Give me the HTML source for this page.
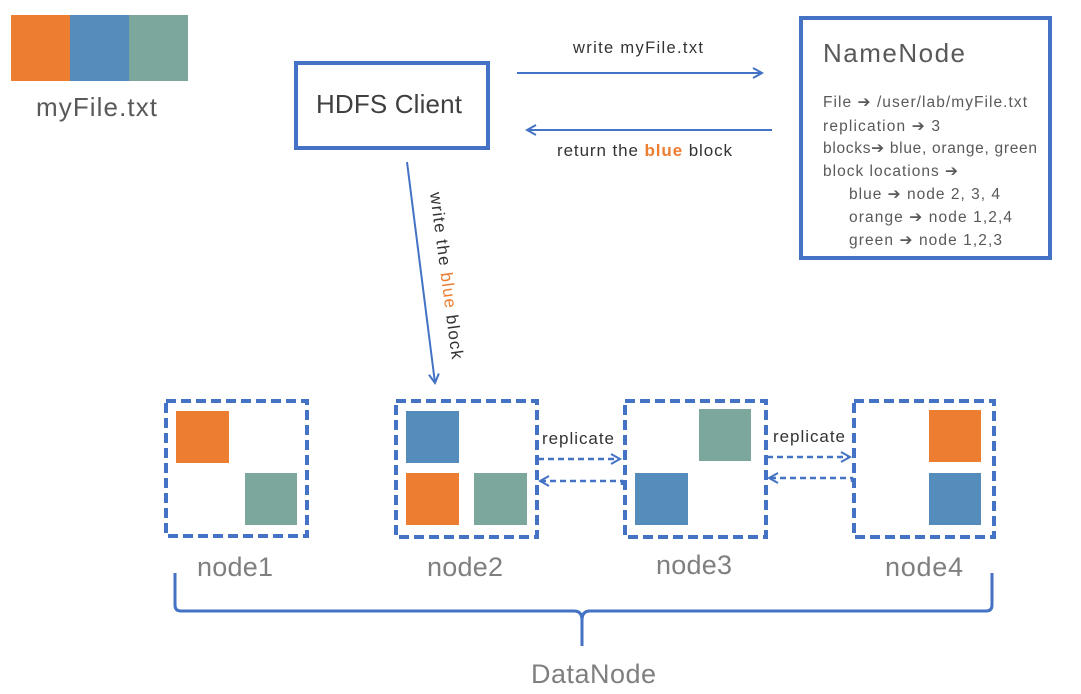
<!DOCTYPE html>
<html><head><meta charset="utf-8"><style>
html,body{margin:0;padding:0;background:#fff;}
svg{display:block;font-family:"Liberation Sans",sans-serif;}
</style></head><body>
<svg width="1081" height="694" viewBox="0 0 1081 694" xmlns="http://www.w3.org/2000/svg">
<defs>
<marker id="ah" markerWidth="12" markerHeight="12" refX="10" refY="6" orient="auto" markerUnits="userSpaceOnUse">
<path d="M1,1 L10,6 L1,11" fill="none" stroke="#4472C4" stroke-width="2"/>
</marker>
</defs>
<rect x="11" y="15" width="59" height="66" fill="#ED7D31"/>
<rect x="70" y="15" width="59" height="66" fill="#548CBB"/>
<rect x="129" y="15" width="59" height="66" fill="#7BA79D"/>
<text x="36" y="116" font-size="26" fill="#595959" textLength="121" lengthAdjust="spacing">myFile.txt</text>

<rect x="296" y="63" width="192" height="85" fill="none" stroke="#4472C4" stroke-width="4"/>
<text x="316" y="113" font-size="26" fill="#404040" textLength="146" lengthAdjust="spacing">HDFS Client</text>

<rect x="801" y="18" width="249" height="240" fill="none" stroke="#4472C4" stroke-width="4"/>
<g fill="#595959">
<text x="823" y="62" font-size="26" textLength="142" lengthAdjust="spacing">NameNode</text>
<g font-size="15.5">
<text x="823" y="107" textLength="204" lengthAdjust="spacing">File ➔ /user/lab/myFile.txt</text>
<text x="823" y="131" textLength="117" lengthAdjust="spacing">replication ➔ 3</text>
<text x="823" y="153" textLength="214" lengthAdjust="spacing">blocks➔ blue, orange, green</text>
<text x="823" y="176" textLength="135" lengthAdjust="spacing">block locations ➔</text>
<text x="849" y="199" textLength="151" lengthAdjust="spacing">blue ➔ node 2, 3, 4</text>
<text x="849" y="222" textLength="163" lengthAdjust="spacing">orange ➔ node 1,2,4</text>
<text x="849" y="245" textLength="153" lengthAdjust="spacing">green ➔ node 1,2,3</text>
</g></g>

<line x1="517" y1="73" x2="762" y2="73" stroke="#4472C4" stroke-width="2" marker-end="url(#ah)"/>
<text x="573" y="53" font-size="16.5" fill="#333" textLength="130" lengthAdjust="spacing">write myFile.txt</text>
<line x1="772" y1="130" x2="527" y2="130" stroke="#4472C4" stroke-width="2" marker-end="url(#ah)"/>
<text x="557" y="156" font-size="17" fill="#333" textLength="175" lengthAdjust="spacing">return the <tspan fill="#ED7D31" font-weight="bold">blue</tspan> block</text>

<line x1="407" y1="162" x2="435" y2="383" stroke="#4472C4" stroke-width="2" marker-end="url(#ah)"/>
<text transform="translate(430,193) rotate(82.5)" font-size="17" fill="#333" textLength="168" lengthAdjust="spacing">write the <tspan fill="#ED7D31">blue</tspan> block</text>

<g fill="none" stroke="#4472C4" stroke-width="4" stroke-dasharray="10,5">
<rect x="166" y="401" width="141" height="135"/>
<rect x="396" y="401" width="141" height="136"/>
<rect x="625" y="401" width="141" height="136"/>
<rect x="854" y="401" width="140" height="136"/>
</g>
<rect x="176" y="411" width="53" height="52" fill="#ED7D31"/>
<rect x="245" y="473" width="52" height="52" fill="#7BA79D"/>
<rect x="406" y="411" width="53" height="52" fill="#548CBB"/>
<rect x="406" y="473" width="53" height="52" fill="#ED7D31"/>
<rect x="474" y="473" width="53" height="52" fill="#7BA79D"/>
<rect x="699" y="409" width="52" height="52" fill="#7BA79D"/>
<rect x="635" y="473" width="53" height="52" fill="#548CBB"/>
<rect x="929" y="410" width="52" height="52" fill="#ED7D31"/>
<rect x="929" y="473" width="52" height="52" fill="#548CBB"/>

<g stroke="#4472C4" stroke-width="2.5" stroke-dasharray="6,4" fill="none">
<path d="M538,459 L620,459" marker-end="url(#ah)"/>
<path d="M622,485 L622,481 L540,481" marker-end="url(#ah)"/>
<path d="M767,457 L850,457" marker-end="url(#ah)"/>
<path d="M852,482 L852,478 L769,478" marker-end="url(#ah)"/>
</g>
<text x="542" y="444" font-size="17" fill="#333" textLength="72" lengthAdjust="spacing">replicate</text>
<text x="773" y="442" font-size="17" fill="#333" textLength="72" lengthAdjust="spacing">replicate</text>

<g font-size="27" fill="#7f7f7f">
<text x="197" y="576" textLength="76" lengthAdjust="spacing">node1</text>
<text x="427" y="576" textLength="76" lengthAdjust="spacing">node2</text>
<text x="656" y="574" textLength="76" lengthAdjust="spacing">node3</text>
<text x="885" y="576" textLength="78" lengthAdjust="spacing">node4</text>
<text x="531" y="683" textLength="125" lengthAdjust="spacing">DataNode</text>
</g>
<path d="M175,573 L175,605 Q175,611 181,611 L574,611 Q582,611 582,620 L582,646 M582,646 L582,620 Q582,611 590,611 L986,611 Q992,611 992,605 L992,573" fill="none" stroke="#4472C4" stroke-width="3"/>
</svg>
</body></html>
